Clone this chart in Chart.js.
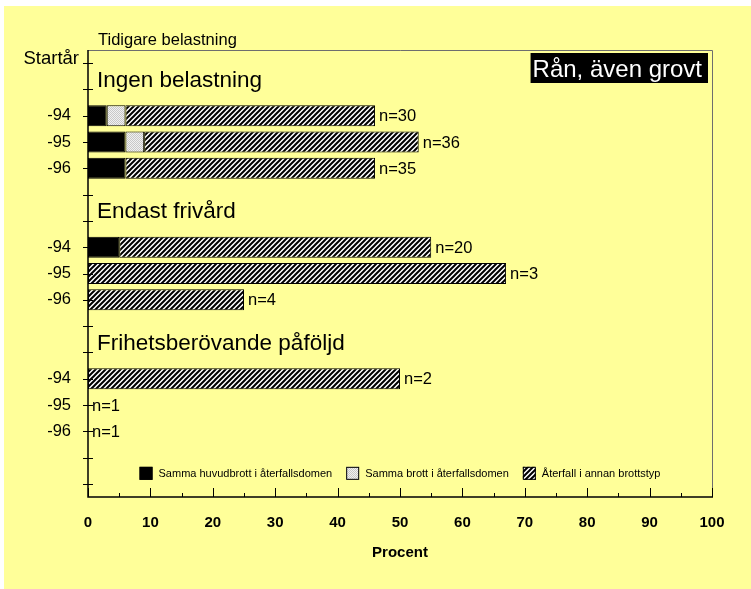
<!DOCTYPE html>
<html>
<head>
<meta charset="utf-8">
<script src="https://cdn.jsdelivr.net/npm/chart.js@4.4.0/dist/chart.umd.min.js"></script>
<style>
  body { margin: 0; background: #fff; }
</style>
</head>
<body>
<canvas id="myChart" width="751" height="589"></canvas>
<script>
var categories = ['Startår', '', '-94', '-95', '-96', '', '', '-94', '-95', '-96', '', '', '-94', '-95', '-96', '', '']
var groupTitles = ['Ingen belastning', 'Endast frivård', 'Frihetsberövande påföljd']
var groupRows = [0, 5, 10]
var seriesNames = ['Samma huvudbrott i återfallsdomen', 'Samma brott i återfallsdomen', 'Återfall i annan brottstyp']
var sameMainValues = [null, null, 3, 6, 6, null, null, 5, null, null, null, null, null, null, null, null, null]
var sameCrimeValues = [null, null, 3, 3, null, null, null, null, null, null, null, null, null, null, null, null, null]
var otherTypeValues = [null, null, 40, 44, 40, null, null, 50, 67, 25, null, null, 50, null, null, null, null]
var nLabels = ['', '', 'n=30', 'n=36', 'n=35', '', '', 'n=20', 'n=3', 'n=4', '', '', 'n=2', 'n=1', 'n=1', '', '']
var chartTitle = 'Rån, även grovt'
var groupAxisTitle = 'Tidigare belastning'
var xAxisTitle = 'Procent'

var FONT = '"Liberation Sans", Arial, sans-serif'
Chart.defaults.font.family = FONT
Chart.defaults.color = '#000'

function hatchPattern() {
  var c = document.createElement('canvas')
  c.width = 5
  c.height = 5
  var g = c.getContext('2d')
  g.fillStyle = '#fff'
  g.fillRect(0, 0, 5, 5)
  g.strokeStyle = '#000'
  g.lineWidth = 2
  g.beginPath()
  g.moveTo(-1, 6); g.lineTo(6, -1)
  g.moveTo(-3.5, 3.5); g.lineTo(3.5, -3.5)
  g.moveTo(1.5, 8.5); g.lineTo(8.5, 1.5)
  g.stroke()
  return g.createPattern(c, 'repeat')
}

function dotPattern() {
  var c = document.createElement('canvas')
  c.width = 2
  c.height = 2
  var g = c.getContext('2d')
  g.fillStyle = '#f0f0f0'
  g.fillRect(0, 0, 2, 2)
  g.fillStyle = '#c8c8c8'
  g.fillRect(0, 0, 1, 1)
  g.fillRect(1, 1, 1, 1)
  return g.createPattern(c, 'repeat')
}

var decorations = {
  id: 'decorations',
  beforeDraw: function (chart) {
    var c = chart.ctx
    c.save()
    c.fillStyle = '#fff'
    c.fillRect(0, 0, chart.width, chart.height)
    c.fillStyle = '#ffff99'
    c.fillRect(4, 6, chart.width - 4, chart.height - 6)
    c.restore()
  },
  afterDatasetsDraw: function (chart) {
    var c = chart.ctx
    var area = chart.chartArea
    var x = chart.scales.x
    var y = chart.scales.y
    c.save()

    // frame: grey top/right, black axes
    c.strokeStyle = '#6e6e6e'
    c.lineWidth = 1
    c.beginPath()
    c.moveTo(area.left, area.top + 0.5); c.lineTo(area.right + 0.5, area.top + 0.5)
    c.lineTo(area.right + 0.5, area.bottom)
    c.stroke()

    c.strokeStyle = '#000'
    c.lineWidth = 1.5
    c.beginPath()
    c.moveTo(area.left, area.top); c.lineTo(area.left, area.bottom)
    c.lineTo(area.right + 1, area.bottom)
    c.stroke()

    // tick marks
    c.lineWidth = 1
    c.beginPath()
    for (var i = 0; i < categories.length; i++) {
      var py = Math.round(y.getPixelForValue(i)) + 0.5
      c.moveTo(area.left - 5, py); c.lineTo(area.left + 5, py)
    }
    for (var v = 0; v <= 100; v += 5) {
      var px = Math.round(x.getPixelForValue(v)) + 0.5
      var len = v % 10 === 0 ? 9 : 4
      c.moveTo(px, area.bottom); c.lineTo(px, area.bottom - len)
    }
    c.stroke()

    // texts
    c.fillStyle = '#000'
    c.textBaseline = 'alphabetic'
    c.textAlign = 'left'
    c.font = '16.5px ' + FONT
    c.fillText(groupAxisTitle, area.left + 10, area.top - 5)
    c.textAlign = 'right'
    c.font = '18.5px ' + FONT
    c.fillText(categories[0], area.left - 9, y.getPixelForValue(0) + 1)

    c.textAlign = 'left'
    c.font = '22.5px ' + FONT
    groupTitles.forEach(function (t, k) {
      c.fillText(t, area.left + 9, y.getPixelForValue(groupRows[k] + 0.9))
    })

    // n labels at the end of each bar
    c.font = '16.5px ' + FONT
    c.textBaseline = 'middle'
    nLabels.forEach(function (t, i) {
      if (!t) return
      var total = (sameMainValues[i] || 0) + (sameCrimeValues[i] || 0) + (otherTypeValues[i] || 0)
      c.fillText(t, x.getPixelForValue(total) + 4, y.getPixelForValue(i) + 1)
    })

    // title box
    c.font = '24px ' + FONT
    var tw = c.measureText(chartTitle).width
    var boxRight = area.right - 4
    var boxLeft = boxRight - tw - 8
    c.fillStyle = '#000'
    c.fillRect(boxLeft, area.top + 3, boxRight - boxLeft, 30)
    c.fillStyle = '#fff'
    c.textBaseline = 'alphabetic'
    c.fillText(chartTitle, boxLeft + 2, area.top + 27)

    // legend inside the plot
    c.font = '11px ' + FONT
    var ds = chart.data.datasets
    var box = 13, gap = 6, spacing = 14
    var widths = ds.map(function (d) { return box + gap + c.measureText(d.label).width })
    var total = widths.reduce(function (a, b) { return a + b }, 0) + spacing * (ds.length - 1)
    var lx = (area.left + area.right) / 2 - total / 2
    var ly = y.getPixelForValue(15.6)
    c.textBaseline = 'middle'
    ds.forEach(function (d, k) {
      c.fillStyle = d.backgroundColor
      c.fillRect(lx, ly - box / 2, box, box)
      c.strokeStyle = '#000'
      c.lineWidth = 1
      c.strokeRect(lx + 0.5, ly - box / 2 + 0.5, box - 1, box - 1)
      c.fillStyle = '#000'
      c.fillText(d.label, lx + box + gap, ly + 1)
      lx += widths[k] + spacing
    })

    c.restore()
  }
}

var ctx = document.getElementById('myChart').getContext('2d')
var myChart = new Chart(ctx, {
  type: 'bar',
  data: {
    labels: categories,
    datasets: [{
        label: seriesNames[0],
        data: sameMainValues,
        backgroundColor: '#000',
        borderColor: '#000',
        borderWidth: 1,
        borderSkipped: false
    },
    {
        label: seriesNames[1],
        data: sameCrimeValues,
        backgroundColor: dotPattern(),
        borderColor: '#000',
        borderWidth: 1,
        borderSkipped: false
    },
    {
        label: seriesNames[2],
        data: otherTypeValues,
        backgroundColor: hatchPattern(),
        borderColor: '#000',
        borderWidth: 1,
        borderSkipped: false
    }]
  },
  options: {
    indexAxis: 'y',
    responsive: false,
    animation: false,
    barPercentage: 0.8,
    categoryPercentage: 1,
    layout: { padding: { left: 0, top: 50, right: 39, bottom: 22 } },
    plugins: {
      legend: { display: false },
      tooltip: { enabled: false }
    },
    scales: {
      x: {
        stacked: true,
        min: 0,
        max: 100,
        grid: { display: false, drawTicks: false },
        border: { display: false },
        ticks: { stepSize: 10, padding: 17, font: { size: 15, weight: 'bold' }, color: '#000' },
        title: { display: true, text: xAxisTitle, font: { size: 15, weight: 'bold' }, color: '#000', padding: { top: 0, bottom: 5 } },
        afterFit: function (scale) { scale.height = 70 }
      },
      y: {
        stacked: true,
        grid: { display: false, drawTicks: false, offset: false },
        border: { display: false },
        ticks: {
          padding: 17,
          font: { size: 16.5 },
          color: '#000',
          callback: function (value, index) { return index === 0 ? '' : categories[index] }
        },
        afterFit: function (scale) { scale.width = 88 }
      }
    }
  },
  plugins: [decorations]
})
</script>
</body>
</html>
